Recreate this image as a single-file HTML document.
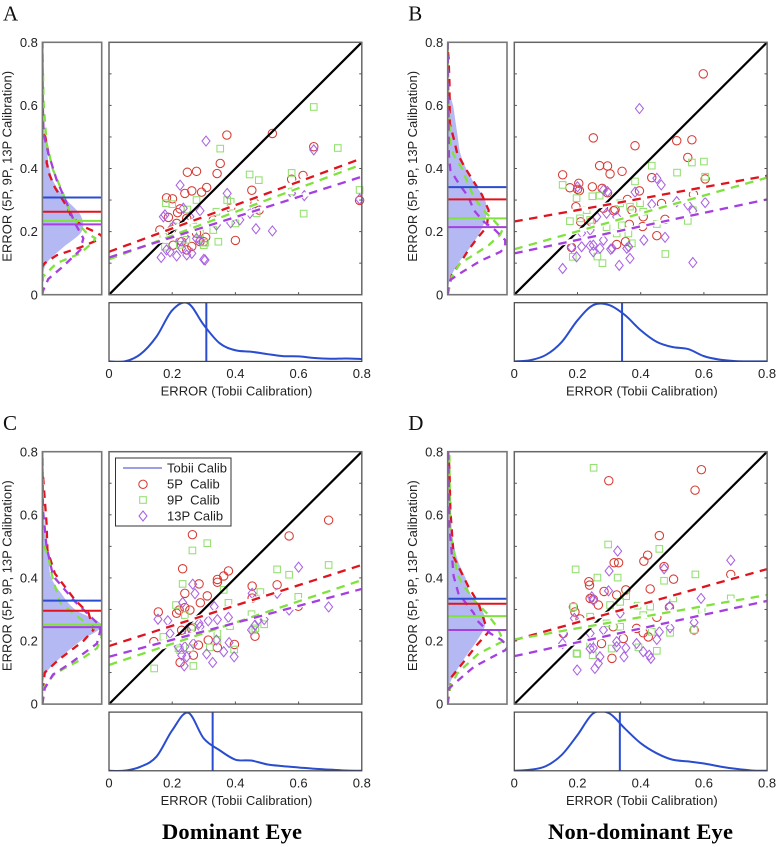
<!DOCTYPE html>
<html lang="en">
<head>
<meta charset="utf-8">
<title>Calibration error scatter plots</title>
<style>
html,body{margin:0;padding:0;background:#fff;width:777px;height:847px;overflow:hidden}
svg{display:block;font-family:"Liberation Sans",Arial,sans-serif;filter:blur(0.3px)}
</style>
</head>
<body>
<svg id="figure" xmlns="http://www.w3.org/2000/svg" width="777" height="847" viewBox="0 0 777 847">
  <text x="162" y="839" font-family="'Liberation Serif',serif" font-weight="bold" font-size="22.5" textLength="140" lengthAdjust="spacing">Dominant Eye</text>
  <text x="548" y="839" font-family="'Liberation Serif',serif" font-weight="bold" font-size="22.5" textLength="185" lengthAdjust="spacing">Non-dominant Eye</text>
</svg>
<script>
// ---------- shared axis labels ----------
const tickValues = [0, 0.2, 0.4, 0.6, 0.8];
const tickLabels = ['0', '0.2', '0.4', '0.6', '0.8'];
const minorYTicks = [0.1, 0.2, 0.3, 0.4, 0.5, 0.6, 0.7];
const majorXTicks = [0.2, 0.4, 0.6];
const densityGrid = [0, .05, .1, .15, .2, .25, .3, .35, .4, .45, .5, .55, .6, .65, .7, .75, .8];
const xAxisTitle = 'ERROR (Tobii Calibration)';
const yAxisTitle = 'ERROR (5P, 9P, 13P Calibration)';

// ---------- panel A ----------
const aRedX = [.373,.517,.648,.248,.277,.342,.352,.309,.24,.262,.293,.182,.201,.452,.578,.614,.793,.225,.217,.188,.40,.306,.475,.385,.462,.246,.214,.203,.23,.246,.262,.288,.3,.277,.33,.161,.198];
const aRedY = [.506,.511,.469,.388,.391,.384,.416,.340,.321,.329,.325,.307,.304,.331,.366,.378,.299,.272,.26,.245,.172,.182,.268,.274,.29,.242,.226,.157,.168,.142,.153,.168,.168,.195,.237,.205,.205];
const aGreenX = [.648,.352,.724,.445,.474,.578,.793,.616,.277,.18,.2,.374,.385,.248,.34,.40,.346,.3,.304,.177,.224,.245,.288,.172,.204,.267,.33,.467,.393,.724,.578];
const aGreenY = [.595,.463,.465,.381,.363,.386,.332,.257,.30,.29,.287,.30,.295,.27,.263,.226,.168,.157,.165,.152,.158,.174,.195,.184,.216,.216,.205,.258,.258,.395,.327];
const aPurpleX = [.307,.648,.225,.374,.793,.618,.578,.465,.517,.177,.172,.288,.235,.34,.385,.165,.214,.304,.3,.246,.262,.182,.23,.277,.288,.203,.256,.24,.193,.224,.446,.414,.467];
const aPurpleY = [.487,.459,.347,.321,.303,.314,.321,.209,.202,.253,.247,.266,.274,.221,.228,.118,.123,.11,.112,.126,.131,.142,.147,.178,.173,.216,.247,.184,.136,.173,.258,.237,.274];
const aFitStart = [.136, .112, .118];
const aFitEnd = [.432, .413, .374];
const aMeans = [.308, .263, .234, .223];
const aTobiiDensity = [0,0,.125,.42,.87,.99,.62,.31,.19,.165,.125,.09,.085,.057,.045,.05,.04];
const aFillDensity = [0,.01,.07,.35,.66,.65,.41,.21,.12,.08,.04,.02,.01,.005,.003,.002,0];
const aRedKdeY = [0,.09,.1,.125,.15,.17,.185,.2,.216,.247,.28,.34,.38,.42,.45,.5,.53,.8];
const aRedKdeD = [0,0,.04,.24,.64,.89,1.02,.88,.69,.49,.41,.21,.12,.07,.1,.05,0,0];
const aGreenKdeY = [0,.057,.1,.131,.168,.179,.195,.247,.32,.395,.48,.607,.8];
const aGreenKdeD = [0,.01,.24,.64,.86,.89,.75,.49,.35,.18,.07,.02,0];
const aPurpleKdeY = [0,.01,.05,.09,.142,.179,.226,.29,.364,.448,.51,.617,.8];
const aPurpleKdeD = [0,.005,.1,.35,.64,.69,.55,.41,.24,.1,.02,.005,0];

// ---------- panel B ----------
const bRedX = [.598,.25,.382,.514,.562,.549,.27,.295,.303,.341,.153,.176,.204,.206,.2,.247,.278,.295,.396,.435,.604,.358,.195,.567,.21,.243,.315,.319,.372,.364,.408,.406,.477,.451,.181,.324,.352,.466,.282];
const bRedY = [.70,.497,.472,.488,.491,.435,.409,.408,.383,.391,.38,.339,.353,.33,.334,.342,.337,.323,.329,.371,.367,.302,.279,.318,.231,.231,.266,.27,.268,.223,.247,.216,.239,.187,.15,.159,.168,.289,.274];
const bGreenX = [.6,.562,.435,.515,.382,.604,.153,.247,.27,.197,.176,.208,.24,.335,.366,.408,.451,.549,.478,.263,.279,.185,.372,.34,.292,.398,.565,.324,.361,.229];
const bGreenY = [.422,.419,.409,.387,.359,.374,.348,.312,.314,.306,.233,.242,.237,.29,.279,.263,.224,.234,.129,.121,.1,.12,.163,.22,.214,.29,.268,.194,.194,.268];
const bPurpleX = [.396,.451,.465,.382,.282,.295,.435,.514,.549,.604,.565,.2,.292,.261,.24,.213,.153,.197,.181,.24,.25,.271,.305,.31,.356,.362,.366,.332,.41,.477,.565,.282,.213,.324,.25];
const bPurpleY = [.59,.369,.348,.325,.332,.327,.286,.295,.285,.292,.266,.342,.258,.247,.205,.195,.083,.12,.15,.155,.136,.147,.144,.147,.147,.152,.115,.093,.173,.182,.102,.173,.152,.247,.157];
const bFitStart = [.232, .144, .131];
const bFitEnd = [.377, .371, .302];
const bMeans = [.341, .302, .242, .214];
const bTobiiDensity = [0,.02,.11,.33,.70,.96,.96,.79,.53,.335,.245,.21,.09,.03,.005,0,0];
const bFillDensity = [0,.04,.18,.38,.55,.65,.63,.46,.31,.21,.17,.13,.09,.02,.005,0,0];
const bRedKdeY = [0,.063,.1,.142,.184,.215,.268,.316,.4,.448,.496,.543,.67,.75,.78,.8];
const bRedKdeD = [0,.07,.21,.35,.52,.66,.69,.58,.3,.16,.1,.035,.03,.015,0,0];
const bGreenKdeY = [0,.057,.1,.126,.157,.189,.205,.231,.268,.31,.353,.4,.443,.48,.617,.8];
const bGreenKdeD = [0,.07,.21,.44,.69,.88,.92,.8,.6,.44,.34,.24,.1,.045,.01,0];
const bPurpleKdeY = [0,.02,.047,.068,.107,.136,.152,.173,.205,.231,.268,.31,.353,.395,.443,.617,.8];
const bPurpleKdeD = [0,.01,.045,.21,.55,.89,.97,.97,.8,.61,.44,.35,.185,.045,.02,.01,0];

// ---------- panel C ----------
const cRedX = [.695,.57,.264,.233,.24,.285,.311,.289,.343,.343,.363,.378,.453,.532,.453,.156,.214,.222,.24,.256,.462,.397,.343,.314,.225,.142,.599,.267,.283,.23,.261];
const cRedY = [.583,.533,.537,.429,.351,.381,.343,.321,.386,.395,.406,.422,.374,.378,.336,.292,.288,.298,.306,.298,.215,.189,.179,.203,.132,.198,.31,.155,.187,.234,.239];
const cGreenX = [.311,.264,.233,.363,.378,.532,.57,.695,.479,.599,.451,.212,.24,.143,.267,.396,.22,.383,.343,.343,.491,.463,.456,.319,.256,.172,.261,.225];
const cGreenY = [.51,.487,.381,.362,.321,.427,.41,.441,.355,.34,.285,.314,.282,.113,.121,.173,.177,.247,.224,.203,.253,.24,.235,.18,.177,.213,.245,.171];
const cPurpleX = [.6,.695,.532,.57,.453,.265,.272,.233,.333,.378,.343,.314,.285,.186,.155,.193,.491,.462,.451,.396,.363,.328,.309,.38,.34,.267,.24,.246,.238,.23,.219,.246,.288,.472];
const cPurpleY = [.434,.308,.351,.298,.351,.38,.35,.322,.309,.275,.268,.264,.256,.264,.269,.224,.268,.25,.235,.15,.166,.132,.159,.195,.203,.192,.182,.15,.121,.155,.182,.235,.245,.266];
const cFitStart = [.184, .124, .15];
const cFitEnd = [.441, .393, .365];
const cMeans = [.328, .296, .252, .244];
const cTobiiDensity = [0,.003,.07,.24,.69,.99,.55,.35,.19,.175,.11,.08,.057,.034,.02,.005,0];
const cFillDensity = [0,0,.07,.32,.64,1.0,.55,.32,.15,.11,.08,.045,.03,.01,.005,0,0];
const cRedKdeY = [0,.05,.1,.14,.2,.235,.288,.33,.414,.488,.573,.75,.8];
const cRedKdeD = [0,.01,.04,.27,.69,.86,.78,.55,.21,.085,.07,0,0];
const cGreenKdeY = [0,.05,.097,.14,.177,.214,.226,.268,.321,.393,.467,.51,.8];
const cGreenKdeD = [0,.01,.21,.64,.92,1.0,.98,.66,.3,.18,.1,.01,0];
const cPurpleKdeY = [0,.05,.094,.129,.192,.235,.258,.325,.406,.5,.615,.8];
const cPurpleKdeD = [0,.04,.18,.47,.92,.98,.92,.55,.18,.07,.01,0];

// ---------- panel D ----------
const dRedX = [.592,.299,.572,.459,.422,.41,.316,.33,.474,.504,.236,.238,.43,.284,.353,.324,.24,.25,.266,.187,.192,.685,.491,.569,.309,.276,.208,.451,.424,.408,.345,.387,.155,.313];
const dRedY = [.743,.708,.678,.534,.472,.453,.448,.448,.436,.396,.388,.377,.365,.357,.362,.346,.335,.332,.314,.308,.292,.411,.307,.235,.145,.192,.27,.275,.213,.226,.208,.24,.224,.245];
const dGreenX = [.251,.297,.194,.263,.327,.459,.573,.474,.503,.685,.354,.335,.303,.39,.43,.408,.24,.187,.593,.435,.493,.569,.451,.199,.197,.248,.393,.308,.24,.292,.335];
const dGreenY = [.749,.506,.427,.401,.401,.492,.411,.391,.335,.335,.342,.324,.314,.312,.309,.282,.277,.308,.298,.229,.226,.235,.169,.159,.161,.155,.18,.176,.192,.256,.245];
const dPurpleX = [.685,.327,.474,.3,.298,.591,.491,.569,.493,.459,.451,.245,.19,.25,.153,.199,.255,.266,.271,.24,.25,.324,.324,.353,.347,.387,.408,.427,.432,.335,.155,.24,.282];
const dPurpleY = [.456,.485,.429,.422,.359,.335,.309,.259,.242,.229,.205,.34,.272,.33,.192,.108,.113,.129,.15,.176,.178,.198,.182,.178,.15,.192,.166,.155,.145,.288,.224,.224,.235];
const dFitStart = [.203, .205, .152];
const dFitEnd = [.428, .346, .327];
const dMeans = [.334, .318, .279, .235];
const dTobiiDensity = [0,.017,.08,.27,.61,.98,.98,.72,.47,.3,.19,.16,.125,.074,.034,.006,0];
const dFillDensity = [0,.005,.13,.3,.49,.63,.58,.38,.3,.18,.11,.07,.045,.017,.01,.003,0];
const dRedKdeY = [0,.087,.134,.187,.229,.256,.319,.372,.436,.467,.615,.742,.784,.8];
const dRedKdeD = [0,.07,.27,.49,.69,.63,.52,.35,.18,.1,.045,.03,.015,0];
const dGreenKdeY = [0,.055,.097,.16,.2,.245,.288,.33,.383,.414,.541,.742,.795,.8];
const dGreenKdeD = [0,.045,.16,.52,.94,.83,.66,.44,.24,.16,.045,.03,.03,0];
const dPurpleKdeY = [0,.05,.118,.171,.182,.203,.224,.266,.288,.351,.406,.562,.795,.8];
const dPurpleKdeD = [0,.02,.44,.97,1.02,.91,.72,.49,.44,.18,.1,.03,.01,0];

// ---------- colours ----------
const seriesColors = {
  tobii: '#2a4ccf', fill: '#b5b9f3', red: '#e0141f', green: '#80e23f', purple: '#a63fe0',
  redMark: '#d63a33', greenMark: '#93e070', purpleMark: '#aa62e2'
};

const NS = 'http://www.w3.org/2000/svg';
const root = document.getElementById('figure');

function make(tag, attrs, parent) {
  const node = document.createElementNS(NS, tag);
  for (const k in attrs) node.setAttribute(k, attrs[k]);
  (parent || root).appendChild(node);
  return node;
}

// Catmull-Rom smoothing through the read density samples.
function smoothPath(pts) {
  let d = 'M' + pts[0][0].toFixed(2) + ' ' + pts[0][1].toFixed(2);
  for (let i = 0; i < pts.length - 1; i++) {
    const p0 = pts[Math.max(i - 1, 0)], p1 = pts[i], p2 = pts[i + 1], p3 = pts[Math.min(i + 2, pts.length - 1)];
    const c1x = p1[0] + (p2[0] - p0[0]) / 6, c1y = p1[1] + (p2[1] - p0[1]) / 6;
    const c2x = p2[0] - (p3[0] - p1[0]) / 6, c2y = p2[1] - (p3[1] - p1[1]) / 6;
    d += 'C' + c1x.toFixed(2) + ' ' + c1y.toFixed(2) + ' ' + c2x.toFixed(2) + ' ' + c2y.toFixed(2) + ' ' + p2[0].toFixed(2) + ' ' + p2[1].toFixed(2);
  }
  return d;
}

function drawPanel(p) {
  const group = make('g', {});
  
  

  const mainW = 252.8, mainH = 252.4, sideW = 59.3, bottomH = 58.7;
  const mainL = p.left, mainT = p.top, mainB = mainT + mainH, mainR = mainL + mainW;
  const sideL = mainL - 66.6, sideR = sideL + sideW;
  const botT = mainB + 8, botB = botT + bottomH;

  const xScale = v => mainL + (v / 0.8) * mainW;
  const yScale = v => mainB - (v / 0.8) * mainH;
  const sideX = d => sideL + d * sideW;
  const botY = d => botB - d * bottomH;

  const defs = make('defs', {}, group);
  const sideClip = make('clipPath', { id: 'side-clip-' + p.key }, defs);
  make('rect', { x: sideL, y: mainT, width: sideW, height: mainH }, sideClip);
  const botClip = make('clipPath', { id: 'bottom-clip-' + p.key }, defs);
  make('rect', { x: mainL, y: botT, width: mainW, height: bottomH }, botClip);

  // panel letter
  const letter = make('text', { x: mainL - 106, y: mainT - 21.7, 'font-family': "'Liberation Serif',serif", 'font-size': 21, fill: '#111' }, group);
  
  
  letter.textContent = p.letter;

  // ---- side density panel ----
  const side = make('g', { 'clip-path': 'url(#side-clip-' + p.key + ')' }, group);
  
  

  const fillPts = p.fill.map((d, i) => [sideX(d), yScale(densityGrid[i])]);
  const fillPath = make('path', {
    d: smoothPath(fillPts) + 'L' + sideL + ' ' + yScale(0.8) + 'L' + sideL + ' ' + yScale(0) + 'Z',
    fill: seriesColors.fill, stroke: 'none'
  }, side);
  
  

  p.kde.forEach(c => {
    const pts = c.y.map((v, i) => sideX(c.d[i]).toFixed(2) + ',' + yScale(v).toFixed(2)).join(' ');
    const line = make('polyline', { points: pts, fill: 'none', stroke: seriesColors[c.color], 'stroke-width': 2.3, 'stroke-dasharray': '7.5 6' }, side);
    
    
  });

  ['tobii', 'red', 'green', 'purple'].forEach((color, i) => {
    const m = make('line', { x1: sideL, x2: sideR, y1: yScale(p.means[i]), y2: yScale(p.means[i]), stroke: seriesColors[color], 'stroke-width': 2 }, group);
    
    
  });

  const sideFrame = make('rect', { x: sideL, y: mainT, width: sideW, height: mainH, fill: 'none', stroke: '#777', 'stroke-width': 1.6 }, group);
  
  

  // y tick labels
  tickValues.forEach((v, i) => {
    const t = make('text', { x: sideL - 4.5, y: yScale(v) + 4.6, 'text-anchor': 'end', 'font-size': 13, fill: '#222' }, group);
    
    
    t.textContent = tickLabels[i];
  });
  const yTitleX = mainL - 97.5, yTitleY = mainT + 124;
  const yTitle = make('text', { x: yTitleX, y: yTitleY, transform: 'rotate(-90 ' + yTitleX + ' ' + yTitleY + ')', 'text-anchor': 'middle', 'font-size': 13, fill: '#222' }, group);
  
  
  yTitle.textContent = yAxisTitle;

  // ---- main scatter ----
  const drawMark = {
    circle(x, y, color, parent) {
      return make('circle', { cx: x, cy: y, r: 4.2, fill: 'none', stroke: color, 'stroke-width': 1.05 }, parent);
    },
    square(x, y, color, parent) {
      return make('rect', { x: x - 3.3, y: y - 3.3, width: 6.6, height: 6.6, fill: 'none', stroke: color, 'stroke-width': 1.05 }, parent);
    },
    diamond(x, y, color, parent) {
      return make('polygon', { points: x + ',' + (y - 5) + ' ' + (x + 4) + ',' + y + ' ' + x + ',' + (y + 5) + ' ' + (x - 4) + ',' + y, fill: 'none', stroke: color, 'stroke-width': 1.05 }, parent);
    }
  };
  const scatter = make('g', {}, group);
  
  
  p.series.forEach(s => {
    s.x.forEach((v, i) => {
      const mark = drawMark[s.shape](xScale(v), yScale(s.y[i]), seriesColors[s.color + 'Mark'], scatter);
      
      
    });
  });

  const diagonal = make('line', { x1: xScale(0), y1: yScale(0), x2: xScale(0.8), y2: yScale(0.8), stroke: '#000', 'stroke-width': 2.2 }, group);
  
  

  ['red', 'green', 'purple'].forEach((color, i) => {
    const coords = { x1: xScale(0), y1: yScale(p.fitStart[i]), x2: xScale(0.8), y2: yScale(p.fitEnd[i]) };
    make('line', Object.assign({ stroke: '#fff', 'stroke-width': 4.5 }, coords), group);
  });
  ['red', 'green', 'purple'].forEach((color, i) => {
    const fit = make('line', { x1: xScale(0), y1: yScale(p.fitStart[i]), x2: xScale(0.8), y2: yScale(p.fitEnd[i]), stroke: seriesColors[color], 'stroke-width': 2.3, 'stroke-dasharray': '8.5 6.5' }, group);
    
    
  });

  const mainFrame = make('rect', { x: mainL, y: mainT, width: mainW, height: mainH, fill: 'none', stroke: '#666', 'stroke-width': 1.5 }, group);
  
  

  minorYTicks.forEach(v => {
    [[mainL, mainL + 2.6], [mainR - 2.6, mainR]].forEach(ends => {
      const tick = make('line', { x1: ends[0], x2: ends[1], y1: yScale(v), y2: yScale(v), stroke: '#555', 'stroke-width': 1 }, group);
      
      
    });
  });
  majorXTicks.forEach(v => {
    const tick = make('line', { x1: xScale(v), x2: xScale(v), y1: mainB - 2.6, y2: mainB, stroke: '#555', 'stroke-width': 1 }, group);
    
    
  });

  // ---- bottom density panel ----
  const bottom = make('g', { 'clip-path': 'url(#bottom-clip-' + p.key + ')' }, group);
  
  
  const botPts = p.tobii.map((d, i) => [xScale(densityGrid[i]), botY(d)]);
  const botCurve = make('path', { d: smoothPath(botPts), fill: 'none', stroke: seriesColors.tobii, 'stroke-width': 2 }, bottom);
  
  
  const meanLine = make('line', { x1: xScale(p.means[0]), x2: xScale(p.means[0]), y1: botT, y2: botB, stroke: seriesColors.tobii, 'stroke-width': 2 }, bottom);
  
  

  const botFrame = make('rect', { x: mainL, y: botT, width: mainW, height: bottomH, fill: 'none', stroke: '#444', 'stroke-width': 1.2 }, group);
  
  

  tickValues.forEach((v, i) => {
    const t = make('text', { x: xScale(v), y: botB + 16.5, 'text-anchor': 'middle', 'font-size': 13, fill: '#222' }, group);
    
    
    t.textContent = tickLabels[i];
  });
  const xTitle = make('text', { x: mainL + 127.5, y: botB + 34, 'text-anchor': 'middle', 'font-size': 13, fill: '#222' }, group);
  
  
  xTitle.textContent = xAxisTitle;
}

const panels = [
  { key: 'a', letter: 'A', left: 109, top: 42.3,
    series: [{ color: 'red', shape: 'circle', x: aRedX, y: aRedY }, { color: 'green', shape: 'square', x: aGreenX, y: aGreenY }, { color: 'purple', shape: 'diamond', x: aPurpleX, y: aPurpleY }],
    fitStart: aFitStart, fitEnd: aFitEnd, means: aMeans, tobii: aTobiiDensity, fill: aFillDensity,
    kde: [{ color: 'red', y: aRedKdeY, d: aRedKdeD }, { color: 'green', y: aGreenKdeY, d: aGreenKdeD }, { color: 'purple', y: aPurpleKdeY, d: aPurpleKdeD }] },
  { key: 'b', letter: 'B', left: 514.3, top: 42.3,
    series: [{ color: 'red', shape: 'circle', x: bRedX, y: bRedY }, { color: 'green', shape: 'square', x: bGreenX, y: bGreenY }, { color: 'purple', shape: 'diamond', x: bPurpleX, y: bPurpleY }],
    fitStart: bFitStart, fitEnd: bFitEnd, means: bMeans, tobii: bTobiiDensity, fill: bFillDensity,
    kde: [{ color: 'red', y: bRedKdeY, d: bRedKdeD }, { color: 'green', y: bGreenKdeY, d: bGreenKdeD }, { color: 'purple', y: bPurpleKdeY, d: bPurpleKdeD }] },
  { key: 'c', letter: 'C', left: 109, top: 451.7,
    series: [{ color: 'red', shape: 'circle', x: cRedX, y: cRedY }, { color: 'green', shape: 'square', x: cGreenX, y: cGreenY }, { color: 'purple', shape: 'diamond', x: cPurpleX, y: cPurpleY }],
    fitStart: cFitStart, fitEnd: cFitEnd, means: cMeans, tobii: cTobiiDensity, fill: cFillDensity,
    kde: [{ color: 'red', y: cRedKdeY, d: cRedKdeD }, { color: 'green', y: cGreenKdeY, d: cGreenKdeD }, { color: 'purple', y: cPurpleKdeY, d: cPurpleKdeD }] },
  { key: 'd', letter: 'D', left: 514.3, top: 451.7,
    series: [{ color: 'red', shape: 'circle', x: dRedX, y: dRedY }, { color: 'green', shape: 'square', x: dGreenX, y: dGreenY }, { color: 'purple', shape: 'diamond', x: dPurpleX, y: dPurpleY }],
    fitStart: dFitStart, fitEnd: dFitEnd, means: dMeans, tobii: dTobiiDensity, fill: dFillDensity,
    kde: [{ color: 'red', y: dRedKdeY, d: dRedKdeD }, { color: 'green', y: dGreenKdeY, d: dGreenKdeD }, { color: 'purple', y: dPurpleKdeY, d: dPurpleKdeD }] }
];
panels.forEach(drawPanel);

// ---------- legend in panel C ----------
const legend = make('g', {});


const legendBox = make('rect', { x: 115.5, y: 458, width: 115.5, height: 68, fill: '#fff', stroke: '#333', 'stroke-width': 1 }, legend);



const legendLine = make('line', { x1: 123, x2: 162, y1: 468, y2: 468, stroke: '#7a80e2', 'stroke-width': 1.4 }, legend);


const legendCircle = make('circle', { cx: 143, cy: 484.3, r: 4.2, fill: 'none', stroke: seriesColors.redMark, 'stroke-width': 1.05 }, legend);


const legendSquare = make('rect', { x: 139.7, y: 496.7, width: 6.6, height: 6.6, fill: 'none', stroke: seriesColors.greenMark, 'stroke-width': 1.05 }, legend);


const legendDiamond = make('polygon', { points: '143,511 147,516 143,521 139,516', fill: 'none', stroke: seriesColors.purpleMark, 'stroke-width': 1.05 }, legend);



const legendText1 = make('text', { x: 167, y: 472.5, 'font-size': 13, fill: '#222' }, legend);


legendText1.textContent = 'Tobii Calib';
const legendText2 = make('text', { x: 167, y: 488.5, 'font-size': 13, fill: '#222' }, legend);


legendText2.textContent = '5P\u00a0\u00a0Calib';
const legendText3 = make('text', { x: 167, y: 504.5, 'font-size': 13, fill: '#222' }, legend);


legendText3.textContent = '9P\u00a0\u00a0Calib';
const legendText4 = make('text', { x: 167, y: 520.5, 'font-size': 13, fill: '#222' }, legend);


legendText4.textContent = '13P Calib';
</script>
</body>
</html>
